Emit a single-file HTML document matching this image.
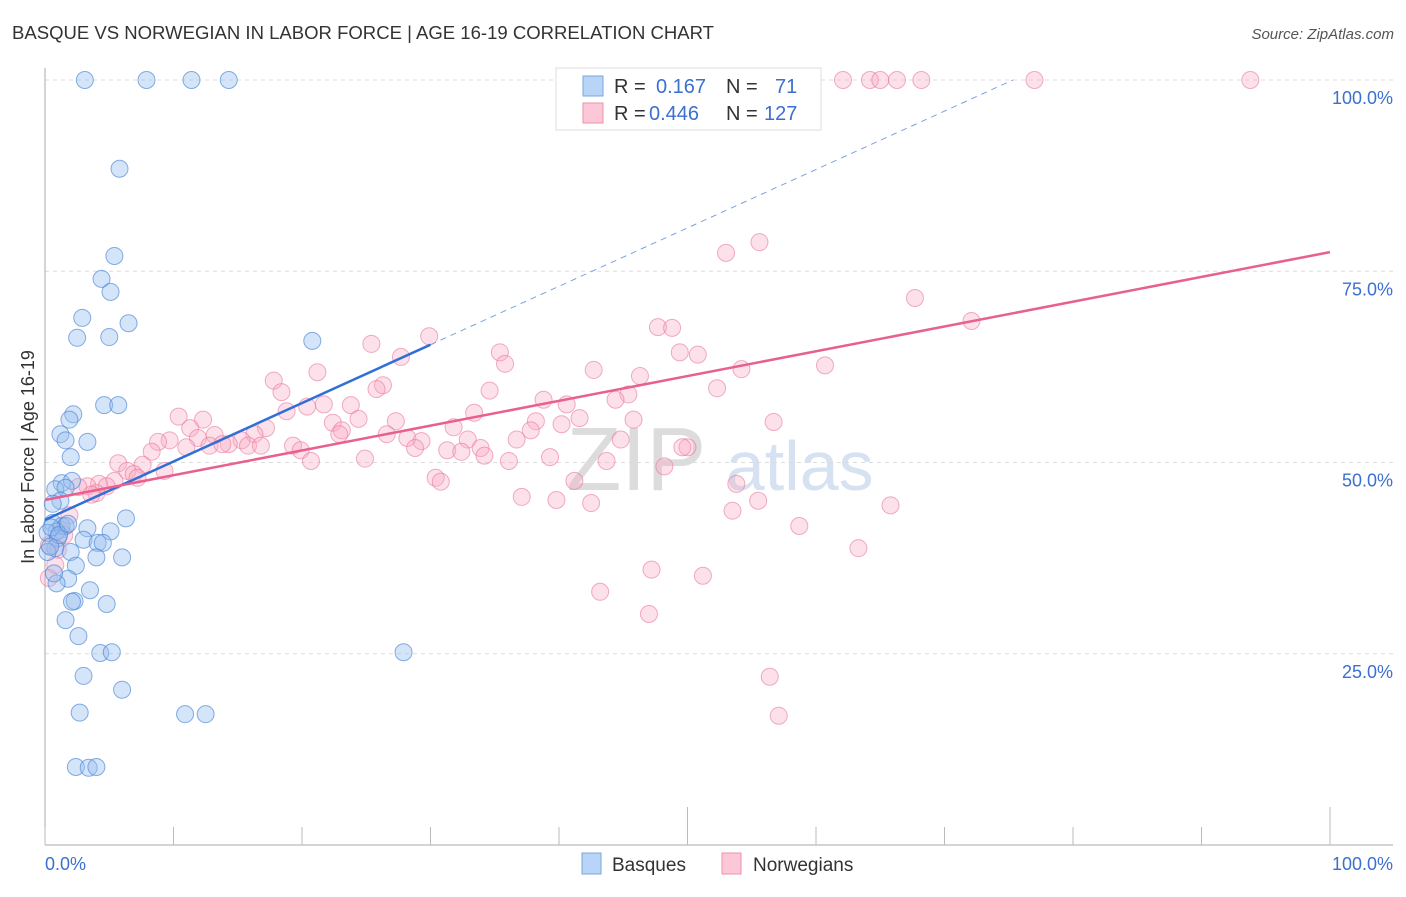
<!DOCTYPE html>
<html><head><meta charset="utf-8"><style>
body{margin:0;background:#fff;font-family:"Liberation Sans",sans-serif}
svg text{font-family:"Liberation Sans",sans-serif}
</style></head><body>
<svg id="c" width="1406" height="892" xmlns="http://www.w3.org/2000/svg">
<text x="12" y="39" font-size="18" fill="#333" textLength="702" lengthAdjust="spacingAndGlyphs">BASQUE VS NORWEGIAN IN LABOR FORCE | AGE 16-19 CORRELATION CHART</text>
<text x="1394" y="39" font-size="15" fill="#555" text-anchor="end" font-style="italic">Source: ZipAtlas.com</text>
<text x="720" y="490" font-size="90" fill="#e4e8ee" text-anchor="middle" font-family="Liberation Serif"><tspan fill="#dcdcdc">ZIP</tspan><tspan fill="#d6e2f2" font-family="Liberation Sans" font-size="70"> atlas</tspan></text>
<g id="grid"></g>
<g id="axes"></g>
<g id="pts"></g>
<g id="lines"></g>
<text transform="translate(34,457) rotate(-90)" font-size="18" fill="#333" text-anchor="middle">In Labor Force | Age 16-19</text>
<g>
<rect x="556" y="68" width="265" height="62" fill="#fff" stroke="#ddd"/>
<rect x="583" y="76" width="20" height="20" fill="#b8d4f6" stroke="#7aa6e0"/>
<rect x="583" y="103" width="20" height="20" fill="#fcc8d8" stroke="#eb92ae"/>
<text x="614" y="93" font-size="20" fill="#333">R = <tspan fill="#3b6fd0" x="656">0.167</tspan><tspan x="726" fill="#333">N =</tspan><tspan x="775" fill="#3b6fd0">71</tspan></text>
<text x="614" y="120" font-size="20" fill="#333">R = <tspan fill="#3b6fd0" x="649">0.446</tspan><tspan x="726" fill="#333">N =</tspan><tspan x="764" fill="#3b6fd0">127</tspan></text>
</g>
<g>
<rect x="582" y="853" width="19" height="21" fill="#b8d4f6" stroke="#7aa6e0"/>
<text x="612" y="871" font-size="19" fill="#333">Basques</text>
<rect x="722" y="853" width="19" height="21" fill="#fcc8d8" stroke="#eb92ae"/>
<text x="753" y="871" font-size="19" fill="#333">Norwegians</text>
</g>
</svg>
<script>
const blueX=[3.1,7.9,11.4,14.3,5.8,5.4,4.4,5.1,2.9,6.5,2.5,5.0,20.8,4.6,5.7,2.2,1.9,1.2,1.6,3.3,2.0,1.3,2.1,0.8,1.6,1.2,0.6,6.3,3.3,5.1,0.6,1.3,1.6,0.9,0.2,1.0,3.0,4.1,4.5,0.8,2.0,0.2,6.0,4.0,2.4,1.8,0.9,3.5,2.3,2.1,4.8,1.6,2.6,4.3,5.2,27.9,3.0,6.0,2.7,10.9,12.5,2.4,3.4,4.0,0.5,1.1,0.4,1.8,0.7];
const blueY=[100,100,100,100,88.4,77.0,74.0,72.3,68.9,68.2,66.3,66.4,65.9,57.5,57.5,56.3,55.6,53.7,52.9,52.7,50.7,47.3,47.6,46.5,46.7,45.0,44.6,42.7,41.4,41.0,42.1,41.7,41.7,41.0,40.8,40.1,39.9,39.5,39.5,38.8,38.3,38.3,37.6,37.6,36.5,34.8,34.2,33.3,31.9,31.8,31.5,29.4,27.3,25.1,25.2,25.2,22.1,20.3,17.3,17.1,17.1,10.2,10.1,10.2,41.5,40.5,39.0,42.0,35.5];
const pinkX=[62.1,64.2,65.0,66.3,68.2,77.0,93.8,55.6,53.0,67.7,72.1,29.9,47.7,48.8,25.4,35.4,49.4,50.8,27.7,35.8,60.7,54.2,42.7,21.2,46.3,17.8,26.3,25.8,52.3,34.6,18.4,45.4,44.4,38.8,40.6,23.8,21.7,20.4,18.8,33.4,10.4,38.2,41.6,45.8,12.3,24.4,22.4,27.3,56.7,11.3,17.2,40.2,23.1,22.9,37.8,31.8,26.6,13.2,16.3,9.7,8.8,11.9,15.3,14.3,28.2,29.3,32.9,44.8,36.7,11.0,12.8,13.8,15.8,16.8,19.3,19.9,28.8,31.3,32.4,33.9,50.0,49.6,8.3,34.2,39.3,24.9,20.7,36.1,43.7,48.2,5.7,7.6,6.4,6.9,9.3,7.2,5.4,4.2,4.8,3.3,2.6,30.4,30.8,41.2,53.8,4.0,3.6,37.1,39.8,42.5,55.5,65.8,53.5,1.9,58.7,1.2,1.5,0.3,1.0,63.3,0.8,47.2,51.2,0.3,43.2,47.0,56.4,57.1];
const pinkY=[100,100,100,100,100,100,100,78.8,77.4,71.5,68.5,66.5,67.7,67.6,65.5,64.4,64.4,64.1,63.8,62.9,62.7,62.2,62.1,61.8,61.3,60.7,60.1,59.6,59.7,59.4,59.2,58.9,58.2,58.2,57.6,57.5,57.6,57.3,56.7,56.5,56.0,55.4,55.8,55.6,55.6,55.7,55.2,55.4,55.3,54.5,54.5,55.0,54.2,53.7,54.2,54.6,53.7,53.6,53.7,52.9,52.7,53.2,52.9,52.4,53.2,52.8,53.0,53.0,53.0,52.0,52.2,52.4,52.2,52.2,52.2,51.6,51.9,51.6,51.4,51.9,52.0,52.0,51.4,50.9,50.7,50.5,50.2,50.2,50.2,49.5,49.9,49.7,48.9,48.5,48.9,48.0,47.6,47.2,46.9,46.9,46.8,48.0,47.5,47.6,47.2,46.0,45.8,45.5,45.1,44.7,45.0,44.4,43.7,43.1,41.7,41.2,40.5,39.2,38.6,38.8,36.6,36.0,35.2,34.9,33.1,30.2,22.0,16.9];
const blueTrend=[42.5,65.4,30,100];
const pinkTrend=[45.1,77.5];
const yTicks=[25,50,75,100];
const yTickLabels=["25.0%","50.0%","75.0%","100.0%"];
const xTickVals=[0,10,20,30,40,50,60,70,80,90,100];
const X=v=>45+v*12.85, Y=v=>845-v*7.65;
const NS="http://www.w3.org/2000/svg";
function mk(p,t,a){const e=document.createElementNS(NS,t);for(const k in a)e.setAttribute(k,a[k]);p.appendChild(e);return e;}
const grid=document.getElementById('grid'),axes=document.getElementById('axes'),pts=document.getElementById('pts'),lines=document.getElementById('lines');
yTicks.forEach((v,i)=>{
 const l=mk(grid,'line',{x1:45,x2:1393,y1:Y(v),y2:Y(v),stroke:'#dcdcdc','stroke-dasharray':'4,4'});
 
 
 const t=mk(grid,'text',{x:1393,y:Y(v)+24,'font-size':18,fill:'#3b6fd0','text-anchor':'end'});
 
 
 t.textContent=yTickLabels[i];
});
let a=mk(axes,'line',{x1:45,x2:45,y1:68,y2:845,stroke:'#aaa'});


a=mk(axes,'line',{x1:45,x2:1393,y1:845,y2:845,stroke:'#aaa'});


xTickVals.forEach(v=>{
 const t=mk(axes,'line',{x1:X(v),x2:X(v),y1:(v%50==0&&v>0)?807:827,y2:845,stroke:'#bbb'});
 
 
});
let t=mk(axes,'text',{x:45,y:870,'font-size':18,fill:'#3b6fd0'});t.textContent='0.0%';


t=mk(axes,'text',{x:1393,y:870,'font-size':18,fill:'#3b6fd0','text-anchor':'end'});t.textContent='100.0%';


pinkX.forEach((x,i)=>{
 const c=mk(pts,'circle',{cx:X(x),cy:Y(pinkY[i]),r:8.5,fill:'rgba(248,170,195,0.35)',stroke:'rgba(232,120,155,0.6)','stroke-width':1});
 
 
});
blueX.forEach((x,i)=>{
 const c=mk(pts,'circle',{cx:X(x),cy:Y(blueY[i]),r:8.5,fill:'rgba(150,190,240,0.4)',stroke:'rgba(70,130,215,0.65)','stroke-width':1});
 
 
});
const slope=(blueTrend[1]-blueTrend[0])/blueTrend[2];
const xEnd=(blueTrend[3]-blueTrend[0])/slope;
let l=mk(lines,'line',{x1:X(blueTrend[2]),y1:Y(blueTrend[1]),x2:X(xEnd),y2:Y(blueTrend[3]),stroke:'#7aa2e0','stroke-width':1,'stroke-dasharray':'6,5'});


l=mk(lines,'line',{x1:X(0),y1:Y(blueTrend[0]),x2:X(blueTrend[2]),y2:Y(blueTrend[1]),stroke:'#2f6fd6','stroke-width':2.5});


l=mk(lines,'line',{x1:X(0),y1:Y(pinkTrend[0]),x2:X(100),y2:Y(pinkTrend[1]),stroke:'#e8608f','stroke-width':2.5});


</script>
</body></html>
